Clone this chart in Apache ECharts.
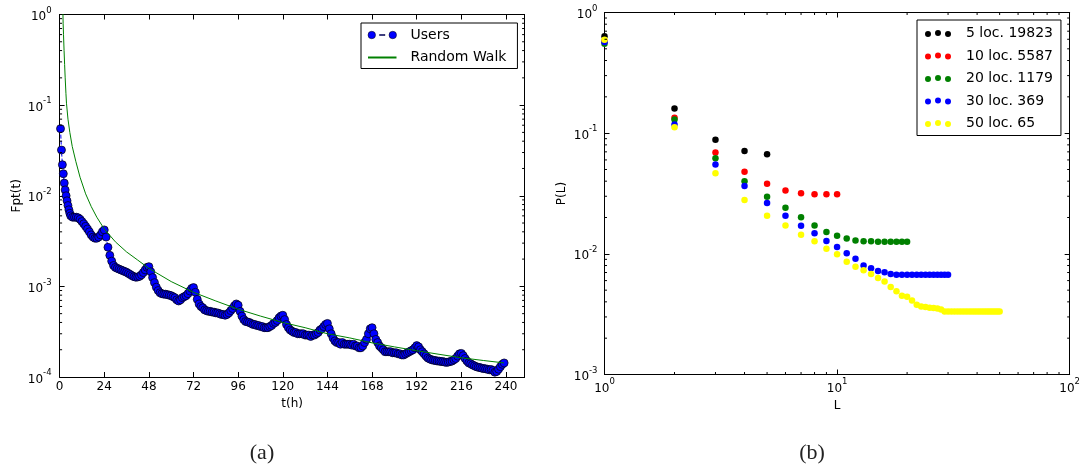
<!DOCTYPE html>
<html>
<head>
<meta charset="utf-8">
<script src="https://cdn.jsdelivr.net/npm/echarts@6/dist/echarts.min.js"></script>
<style>
html, body { margin: 0; padding: 0; background: #fff; }
#chart { width: 1083px; height: 465px; }
</style>
</head>
<body>
<div id="chart"></div>
<script>
// ---- (a) first-passage time distribution ----
const usersHours = [
  0.5, 1, 1.5, 2, 2.5, 3, 3.5, 4, 4.5, 5, 5.5, 6,
  7, 8, 9, 10, 11, 12, 13, 14, 15, 16, 17, 18,
  19, 20, 21, 22, 23, 24, 25, 26, 27, 28, 29, 30,
  31, 32, 33, 34, 35, 36, 37, 38, 39, 40, 41, 42,
  43, 44, 45, 46, 47, 48, 49, 50, 51, 52, 53, 54,
  55, 56, 57, 58, 59, 60, 61, 62, 63, 64, 65, 66,
  67, 68, 69, 70, 71, 72, 73, 74, 75, 76, 77, 78,
  79, 80, 81, 82, 83, 84, 85, 86, 87, 88, 89, 90,
  91, 92, 93, 94, 95, 96, 97, 98, 99, 100, 101, 102,
  103, 104, 105, 106, 107, 108, 109, 110, 111, 112, 113, 114,
  115, 116, 117, 118, 119, 120, 121, 122, 123, 124, 125, 126,
  127, 128, 129, 130, 131, 132, 133, 134, 135, 136, 137, 138,
  139, 140, 141, 142, 143, 144, 145, 146, 147, 148, 149, 150,
  151, 152, 153, 154, 155, 156, 157, 158, 159, 160, 161, 162,
  163, 164, 165, 166, 167, 168, 169, 170, 171, 172, 173, 174,
  175, 176, 177, 178, 179, 180, 181, 182, 183, 184, 185, 186,
  187, 188, 189, 190, 191, 192, 193, 194, 195, 196, 197, 198,
  199, 200, 201, 202, 203, 204, 205, 206, 207, 208, 209, 210,
  211, 212, 213, 214, 215, 216, 217, 218, 219, 220, 221, 222,
  223, 224, 225, 226, 227, 228, 229, 230, 231, 232, 233, 234,
  235, 236, 237, 238, 239
];
const usersFpt = [
  0.055, 0.032, 0.022, 0.0175, 0.0138, 0.0116, 0.0100, 0.0088, 0.0078, 0.0070, 0.0064, 0.0060,
  0.0058, 0.0058, 0.0058, 0.0057, 0.0055, 0.0052, 0.0049, 0.0046, 0.0043, 0.0040, 0.0037, 0.0035,
  0.0034, 0.0034, 0.0035, 0.0037, 0.0040, 0.0042, 0.0035, 0.0027, 0.0022, 0.0019, 0.0017, 0.00162,
  0.00158, 0.00155, 0.00152, 0.00149, 0.00146, 0.00143, 0.00139, 0.00135, 0.00131, 0.00128, 0.00126, 0.00127,
  0.00129, 0.00134, 0.00142, 0.00152, 0.00162, 0.00165, 0.00145, 0.00125, 0.00110, 0.00098, 0.00090, 0.00085,
  0.00083, 0.00082, 0.00082, 0.00081, 0.00080, 0.00079, 0.00077, 0.00075, 0.00071, 0.00069, 0.00071, 0.00075,
  0.00077, 0.00079, 0.00083, 0.00089, 0.00095, 0.00097, 0.00086, 0.00072, 0.00064, 0.00060, 0.00058, 0.00055,
  0.00054, 0.00053, 0.00053, 0.00052, 0.00052, 0.00051, 0.00051, 0.00050, 0.00049, 0.00049, 0.00048, 0.00049,
  0.00051, 0.00054, 0.00057, 0.00061, 0.00064, 0.00062, 0.00053, 0.00047, 0.00043, 0.00041, 0.000405, 0.00040,
  0.00039, 0.00038, 0.00038, 0.00037, 0.00037, 0.00036, 0.00036, 0.00035, 0.00035, 0.00035, 0.00036, 0.00037,
  0.00039, 0.00040, 0.00042, 0.00045, 0.00047, 0.00048, 0.00043, 0.00038, 0.00035, 0.00033, 0.00032, 0.00031,
  0.00031, 0.00030, 0.00030, 0.00030, 0.00030, 0.00029, 0.00029, 0.00029, 0.00028, 0.00029, 0.00029, 0.00030,
  0.00031, 0.00033, 0.00034, 0.00036, 0.00038, 0.00039, 0.00034, 0.00030, 0.00027, 0.00025, 0.00024, 0.00024,
  0.00023, 0.00024, 0.00023, 0.00023, 0.00023, 0.00023, 0.000225, 0.00023, 0.00022, 0.00022, 0.00021, 0.00021,
  0.00022, 0.00024, 0.00026, 0.00030, 0.00034, 0.00035, 0.00030, 0.00026, 0.00024, 0.00022, 0.00021, 0.00020,
  0.00019, 0.00019, 0.00019, 0.00019, 0.000185, 0.000185, 0.000185, 0.00018, 0.00018, 0.000175, 0.000175, 0.00018,
  0.000185, 0.00019, 0.000195, 0.00020, 0.00021, 0.000222, 0.000215, 0.00020, 0.00019, 0.00018, 0.00017, 0.000162,
  0.000158, 0.000155, 0.000153, 0.000152, 0.00015, 0.00015, 0.000148, 0.000148, 0.000146, 0.000145, 0.000146, 0.000148,
  0.00015, 0.000155, 0.00016, 0.00017, 0.00018, 0.000182, 0.000172, 0.00016, 0.00015, 0.000143, 0.00014, 0.000136,
  0.000133, 0.00013, 0.000128, 0.000127, 0.000125, 0.000124, 0.000123, 0.000122, 0.00012, 0.000121, 0.000118, 0.000113,
  0.000115, 0.000122, 0.00013, 0.000138, 0.000143
];
const walkHours = [1.7, 1.9, 2.1, 2.4, 2.7, 3.0, 3.4, 3.7, 4.5, 5.5, 6.8, 8.7, 11, 14, 17, 20, 24, 30, 36, 42,
  48, 60, 72, 84, 96, 108, 120, 132, 144, 156, 168, 180, 192, 204, 216, 228, 239];
const walkFpt = [1.3, 0.8, 0.6, 0.40, 0.28, 0.20, 0.135, 0.105, 0.07, 0.05, 0.035, 0.024, 0.016, 0.0105, 0.0076, 0.0058, 0.0043, 0.0031, 0.0024, 0.00195,
  0.00158, 0.00113, 0.00086, 0.00069, 0.00056, 0.00047, 0.0004, 0.00035, 0.0003, 0.00027, 0.000238, 0.000215, 0.000195, 0.000178, 0.000163, 0.000152, 0.000143];

// ---- (b) P(L) for groups of users by number of visited locations ----
const lengths = [1, 2, 3, 4, 5, 6, 7, 8, 9, 10, 11, 12, 13, 14, 15, 16, 17, 18, 19, 20,
  21, 22, 23, 24, 25, 26, 27, 28, 29, 30, 31, 32, 33, 34, 35, 36, 37, 38, 39, 40,
  41, 42, 43, 44, 45, 46, 47, 48, 49, 50];
const loc5 = [0.635, 0.160, 0.088, 0.071, 0.067];
const loc10 = [0.58, 0.134, 0.069, 0.048, 0.038, 0.0335, 0.0317, 0.0312, 0.0312, 0.0312];
const loc20 = [0.552, 0.130, 0.062, 0.040, 0.0297, 0.0241, 0.0201, 0.0172, 0.0152, 0.0141,
  0.0134, 0.0129, 0.0127, 0.0127, 0.0126, 0.0126, 0.0126, 0.0126, 0.0126, 0.0126];
const loc30 = [0.570, 0.118, 0.055, 0.0365, 0.0264, 0.0207, 0.0171, 0.0148, 0.0128, 0.0114,
  0.0101, 0.0091, 0.0080, 0.0076, 0.0072, 0.00705, 0.0068, 0.0067, 0.0067, 0.0067,
  0.0067, 0.0067, 0.0067, 0.0067, 0.0067, 0.0067, 0.0067, 0.0067, 0.0067, 0.0067];
const loc50 = [0.595, 0.112, 0.0465, 0.028, 0.0207, 0.0172, 0.0144, 0.0127, 0.0110, 0.0099,
  0.0086, 0.0078, 0.0073, 0.0068, 0.0063, 0.0059, 0.0053, 0.0049, 0.0045, 0.0044,
  0.0041, 0.00378, 0.00366, 0.00362, 0.00358, 0.00356, 0.00352, 0.00345, 0.00333, 0.00333,
  0.00333, 0.00333, 0.00333, 0.00333, 0.00333, 0.00333, 0.00333, 0.00333, 0.00333, 0.00333,
  0.00333, 0.00333, 0.00333, 0.00333, 0.00333, 0.00333, 0.00333, 0.00333, 0.00333, 0.00333];
const groupNames = ['5 loc. 19823', '10 loc. 5587', '20 loc. 1179', '30 loc. 369', '50 loc. 65'];
const groupColors = ['#000000', '#ff0000', '#008000', '#0000ff', '#ffff00'];
const groupValues = [loc5, loc10, loc20, loc30, loc50];

const hourTicks = [0, 24, 48, 72, 96, 120, 144, 168, 192, 216, 240];

// ---- styling helpers ----
const FONT = 'DejaVu Sans';
const INK = '#000';

const pairs = (xs, ys) => ys.map((v, i) => [xs[i], v]);

// power-of-ten labels with raised exponent
const powLabel = v => {
  const e = Math.round(Math.log10(v));
  return '{b|10}{s|' + e + '}';
};
const powRich = {
  b: { fontSize: 12, fontFamily: FONT, color: INK, verticalAlign: 'bottom', lineHeight: 17 },
  s: { fontSize: 8.5, fontFamily: FONT, color: INK, verticalAlign: 'top', lineHeight: 10 }
};

const frameLine = { show: true, onZero: false, lineStyle: { color: INK, width: 1 } };
const majorTick = { show: true, inside: true, length: 5, lineStyle: { color: INK, width: 1 } };

// minor ticks of log axes, placed through the axis scale on both sides of the frame
const minorValues = (lo, hi) => {
  const out = [];
  for (let d = lo; d < hi; d++) {
    for (let k = 2; k <= 9; k++) out.push(k * Math.pow(10, d));
  }
  return out;
};
function minorTickItem(params, api) {
  const cs = params.coordSys;
  const dir = api.value(2);
  const len = 2.5;
  const p = api.coord([api.value(0), api.value(1)]);
  let segs;
  if (dir === 0) {
    const y = p[1];
    segs = [[cs.x, y, cs.x + len, y], [cs.x + cs.width - len, y, cs.x + cs.width, y]];
  } else {
    const x = p[0];
    segs = [[x, cs.y + cs.height, x, cs.y + cs.height - len], [x, cs.y, x, cs.y + len]];
  }
  return {
    type: 'group',
    children: segs.map(s => ({
      type: 'line',
      shape: { x1: s[0], y1: s[1], x2: s[2], y2: s[3] },
      style: { stroke: INK, lineWidth: 1 }
    }))
  };
}

const leftYMinor = minorValues(-4, 0).map(v => [0, v, 0]);
const rightYMinor = minorValues(-3, 0).map(v => [1, v, 0]);
const rightXMinor = minorValues(0, 2).map(v => [v, 0.001, 1]);

// legend glyphs: marker-dash-marker, and three scatter dots
const usersIcon = 'path://M0,3.75a3.75,3.75 0 1,0 7.5,0a3.75,3.75 0 1,0 -7.5,0z' +
  'M11.5,3.25h5.5v1h-5.5z' +
  'M21,3.75a3.75,3.75 0 1,0 7.5,0a3.75,3.75 0 1,0 -7.5,0z';
const dotsIcon = 'path://M0,4a3,3 0 1,0 6,0a3,3 0 1,0 -6,0zM10,3a3,3 0 1,0 6,0a3,3 0 1,0 -6,0zM20,4a3,3 0 1,0 6,0a3,3 0 1,0 -6,0z';

const chart = echarts.init(document.getElementById('chart'), null, { renderer: 'canvas' });

const option = {
  animation: false,
  backgroundColor: '#fff',
  textStyle: { fontFamily: FONT },
  grid: [
    { left: 59.6, top: 14.5, width: 465, height: 362.5 },
    { left: 604.5, top: 12.5, width: 466, height: 362 }
  ],
  xAxis: [
    {
      gridIndex: 0, type: 'value', position: 'bottom', min: 0, max: 250, interval: 24,
      axisLine: frameLine, axisTick: majorTick, splitLine: { show: false },
      axisLabel: {
        fontSize: 12, fontFamily: FONT, color: INK, margin: 4, showMaxLabel: false,
        formatter: v => (hourTicks.indexOf(v) >= 0 ? String(v) : '')
      },
      name: 't(h)', nameLocation: 'middle', nameGap: 19,
      nameTextStyle: { fontSize: 12, fontFamily: FONT, color: INK }
    },
    {
      gridIndex: 0, type: 'value', position: 'top', min: 0, max: 250, interval: 24,
      axisLine: frameLine, axisTick: majorTick, axisLabel: { show: false }, splitLine: { show: false }
    },
    {
      gridIndex: 1, type: 'log', logBase: 10, position: 'bottom', min: 1, max: 100,
      axisLine: frameLine, axisTick: majorTick, splitLine: { show: false },
      axisLabel: { formatter: powLabel, rich: powRich, margin: 3 },
      name: 'L', nameLocation: 'middle', nameGap: 24,
      nameTextStyle: { fontSize: 12, fontFamily: FONT, color: INK }
    },
    {
      gridIndex: 1, type: 'log', logBase: 10, position: 'top', min: 1, max: 100,
      axisLine: frameLine, axisTick: majorTick, axisLabel: { show: false }, splitLine: { show: false }
    }
  ],
  yAxis: [
    {
      gridIndex: 0, type: 'log', logBase: 10, position: 'left', min: 1e-4, max: 1,
      axisLine: frameLine, axisTick: majorTick, splitLine: { show: false },
      axisLabel: { formatter: powLabel, rich: powRich, margin: 8 },
      name: 'Fpt(t)', nameLocation: 'middle', nameGap: 37, nameRotate: 90,
      nameTextStyle: { fontSize: 12, fontFamily: FONT, color: INK }
    },
    {
      gridIndex: 0, type: 'log', logBase: 10, position: 'right', min: 1e-4, max: 1,
      axisLine: frameLine, axisTick: majorTick, axisLabel: { show: false }, splitLine: { show: false }
    },
    {
      gridIndex: 1, type: 'log', logBase: 10, position: 'left', min: 1e-3, max: 1,
      axisLine: frameLine, axisTick: majorTick, splitLine: { show: false },
      axisLabel: { formatter: powLabel, rich: powRich, margin: 7 },
      name: 'P(L)', nameLocation: 'middle', nameGap: 37, nameRotate: 90,
      nameTextStyle: { fontSize: 12, fontFamily: FONT, color: INK }
    },
    {
      gridIndex: 1, type: 'log', logBase: 10, position: 'right', min: 1e-3, max: 1,
      axisLine: frameLine, axisTick: majorTick, axisLabel: { show: false }, splitLine: { show: false }
    }
  ],
  legend: [
    {
      left: 361, top: 23, orient: 'vertical',
      data: [
        { name: 'Users', icon: usersIcon, itemStyle: { borderWidth: 0.5 } },
        { name: 'Random Walk', itemStyle: { opacity: 0 } }
      ],
      itemWidth: 28.5, itemHeight: 7.5, itemGap: 6.5,
      padding: [4, 11, 3, 6],
      borderColor: INK, borderWidth: 1, borderRadius: 0, backgroundColor: '#fff',
      textStyle: { fontSize: 14, fontFamily: FONT, color: INK, lineHeight: 16, padding: [0, 0, 0, 9] }
    },
    {
      left: 917, top: 20, orient: 'vertical',
      data: groupNames.map(n => ({ name: n, icon: dotsIcon })),
      itemWidth: 26, itemHeight: 7, itemGap: 6.5,
      padding: [5.5, 8, 4, 8],
      borderColor: INK, borderWidth: 1, borderRadius: 0, backgroundColor: '#fff',
      textStyle: { fontSize: 14, fontFamily: FONT, color: INK, lineHeight: 16, padding: [0, 0, 0, 10] }
    }
  ],
  graphic: [
    { type: 'text', x: 262, y: 453, style: { text: '(a)', font: '22px "Liberation Serif"', fill: '#222', align: 'center', verticalAlign: 'middle' } },
    { type: 'text', x: 812, y: 453, style: { text: '(b)', font: '22px "Liberation Serif"', fill: '#222', align: 'center', verticalAlign: 'middle' } }
  ],
  series: [
    {
      name: 'Users', type: 'line', xAxisIndex: 0, yAxisIndex: 0,
      data: pairs(usersHours, usersFpt),
      symbol: 'circle', symbolSize: 8, showSymbol: true,
      lineStyle: { color: '#0000ff', width: 1, type: 'dashed' },
      itemStyle: { color: '#0000ff', borderColor: '#000', borderWidth: 0.7 },
      z: 2
    },
    {
      name: 'Random Walk', type: 'line', xAxisIndex: 0, yAxisIndex: 0,
      data: pairs(walkHours, walkFpt),
      symbol: 'none', showSymbol: false,
      lineStyle: { color: '#008000', width: 1 },
      itemStyle: { color: '#008000' },
      z: 3
    },
    {
      type: 'custom', xAxisIndex: 0, yAxisIndex: 0, renderItem: minorTickItem,
      data: leftYMinor, silent: true, z: 5
    },
    {
      type: 'custom', xAxisIndex: 2, yAxisIndex: 2, renderItem: minorTickItem,
      data: rightYMinor.concat(rightXMinor), silent: true, z: 5
    }
  ].concat(groupNames.map((name, i) => ({
    name: name, type: 'scatter', xAxisIndex: 2, yAxisIndex: 2,
    data: pairs(lengths, groupValues[i]),
    symbol: 'circle', symbolSize: 6.5,
    itemStyle: { color: groupColors[i], opacity: 1 },
    z: 2 + i * 0.01
  })))
};

chart.setOption(option);
</script>
</body>
</html>
